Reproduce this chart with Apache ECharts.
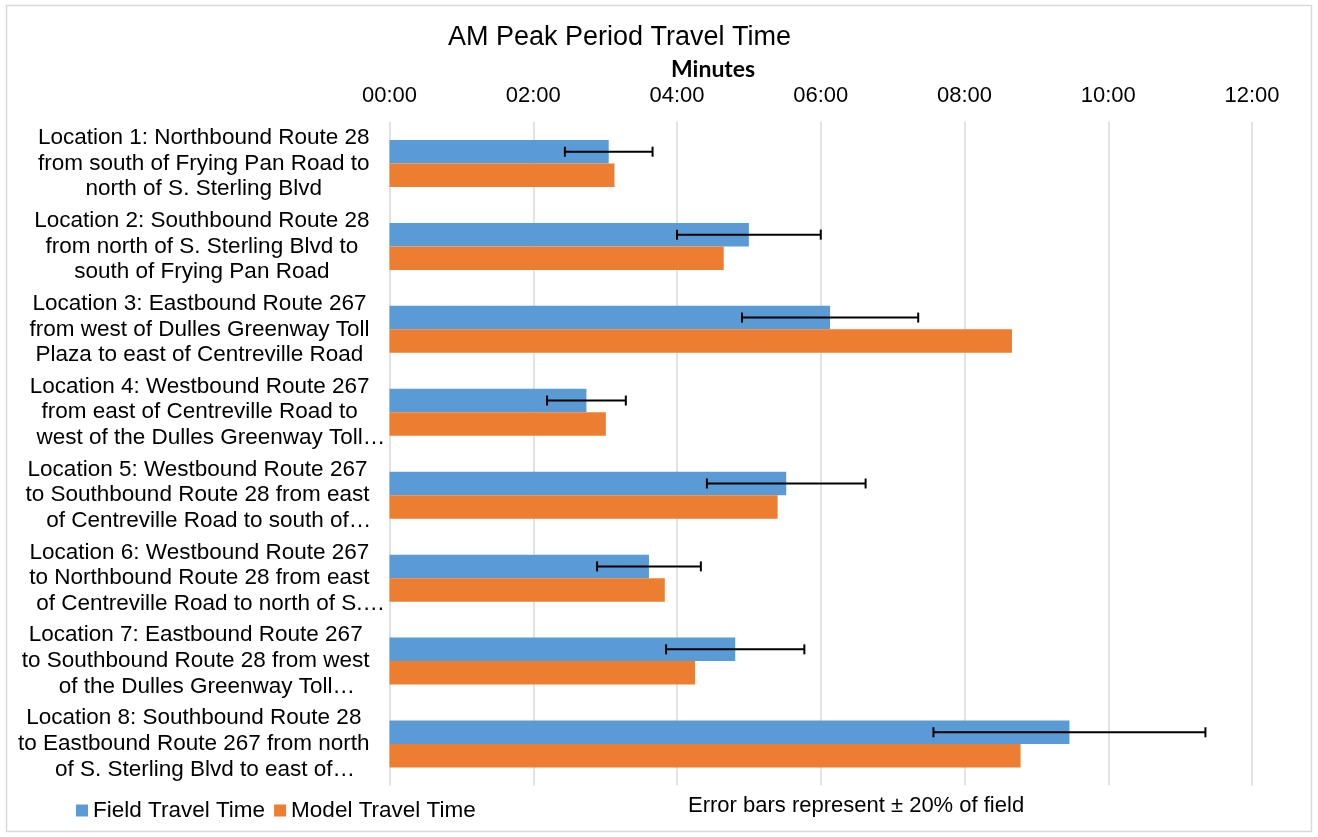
<!DOCTYPE html>
<html><head><meta charset="utf-8">
<script src="https://cdn.jsdelivr.net/npm/echarts@6/dist/echarts.min.js"></script>
<style>html,body{margin:0;padding:0;background:#fff}#c{width:1318px;height:837px}</style>
</head><body><div id="c"></div>
<script>
// ---- data ----
const categories = [
  "Location 1: Northbound Route 28\nfrom south of Frying Pan Road to\nnorth of S. Sterling Blvd",
  "Location 2: Southbound Route 28\nfrom north of S. Sterling Blvd to\nsouth of Frying Pan Road",
  "Location 3: Eastbound Route 267\nfrom west of Dulles Greenway Toll\nPlaza to east of Centreville Road",
  "Location 4: Westbound Route 267\nfrom east of Centreville Road to\nwest of the Dulles Greenway Toll\u2026",
  "Location 5: Westbound Route 267\nto Southbound Route 28 from east\nof Centreville Road to south of\u2026",
  "Location 6: Westbound Route 267\nto Northbound Route 28 from east\nof Centreville Road to north of S.\u2026",
  "Location 7: Eastbound Route 267\nto Southbound Route 28 from west\nof the Dulles Greenway Toll\u2026",
  "Location 8: Southbound Route 28\nto Eastbound Route 267 from north\nof S. Sterling Blvd to east of\u2026"
];
// minutes
const fieldTravelTime = [3.05, 5.00, 6.13, 2.74, 5.52, 3.61, 4.81, 9.46];
const modelTravelTime = [3.13, 4.65, 8.66, 3.01, 5.40, 3.83, 4.25, 8.78];
const errorShare = 0.20; // "Error bars represent ± 20% of field"
const seriesNames = ["Field Travel Time", "Model Travel Time"];
const chartTitle = "AM Peak Period Travel Time";
const axisName = "Minutes";
const noteText = "Error bars represent \u00b1 20% of field";

// ---- styling ----
const FONT = '"Liberation Sans", Arial, sans-serif';
const BAR_W = 23.5;
const BLUE = '#5B9BD5', ORANGE = '#ED7D31', GRID = '#d9d9d9';
const LBL = 22.5;

const errorData = fieldTravelTime.map((v, i) => [i, v * (1 - errorShare), v * (1 + errorShare)]);

const chart = echarts.init(document.getElementById('c'), null, {renderer: 'canvas'});
chart.setOption({
  animation: false,
  backgroundColor: '#fff',
  title: [
    {text: chartTitle, left: 448, top: 24, padding: 0,
     textStyle: {fontFamily: FONT, fontSize: 27, fontWeight: 'normal', color: '#000'}},
    {text: axisName, left: 671, top: 58, padding: 0,
     textStyle: {fontFamily: 'Lato, "Open Sans", sans-serif', fontSize: 23, fontWeight: 'bold', color: '#000'}},
    {text: noteText, left: 688, top: 795, padding: 0,
     textStyle: {fontFamily: FONT, fontSize: 22, fontWeight: 'normal', color: '#000'}}
  ],
  legend: {
    data: seriesNames, left: 76, top: 799, padding: 0,
    icon: 'rect', itemWidth: 12, itemHeight: 12, itemGap: 9,
    textStyle: {fontFamily: FONT, fontSize: 22.5, color: '#000'}
  },
  grid: {left: 389.5, right: 66, top: 122, bottom: 51.5, containLabel: false, outerBoundsMode: 'none'},
  xAxis: {
    type: 'value', position: 'top', min: 0, max: 12, interval: 2,
    axisLine: {show: false}, axisTick: {show: false},
    splitLine: {show: true, lineStyle: {color: GRID, width: 1.5}},
    axisLabel: {
      margin: 15, fontFamily: FONT, fontSize: 22, color: '#000',
      formatter: v => String(v).padStart(2, '0') + ':00'
    }
  },
  yAxis: {
    type: 'category', data: categories, inverse: true,
    axisLine: {show: false}, axisTick: {show: false}, splitLine: {show: false},
    axisLabel: {
      margin: 20, interval: 0, fontFamily: FONT, fontSize: LBL, color: '#000', lineHeight: 25.8,
      formatter: (val) => val.split('\n').map(line => {
        if (line.endsWith('\u2026')) return '{l|' + line.slice(0, -1) + '}{e|\u2003\u2026}';
        return '{l|' + line + '}';
      }).join('\n'),
      rich: {
        l: {align: 'center', fontFamily: FONT, fontSize: LBL, lineHeight: 25.8, color: '#000'},
        e: {align: 'center', width: 0, fontFamily: FONT, fontSize: LBL, lineHeight: 25.8, color: '#000'}
      }
    }
  },
  series: [
    {name: seriesNames[0], type: 'bar', data: fieldTravelTime, barWidth: BAR_W, barGap: '0%',
     itemStyle: {color: BLUE}},
    {name: seriesNames[1], type: 'bar', data: modelTravelTime, barWidth: BAR_W, barGap: '0%',
     itemStyle: {color: ORANGE}},
    {name: 'Error', type: 'custom', data: errorData, z: 10,
     encode: {x: [1, 2], y: 0},
     renderItem: (params, api) => {
       const idx = api.value(0);
       const a = api.coord([api.value(1), idx]);
       const b = api.coord([api.value(2), idx]);
       const y = a[1] - BAR_W / 2;
       const cap = 5;
       const st = {stroke: '#000', lineWidth: 2};
       return {type: 'group', children: [
         {type: 'line', shape: {x1: a[0], y1: y, x2: b[0], y2: y}, style: st},
         {type: 'line', shape: {x1: a[0], y1: y - cap, x2: a[0], y2: y + cap}, style: st},
         {type: 'line', shape: {x1: b[0], y1: y - cap, x2: b[0], y2: y + cap}, style: st}
       ]};
     }}
  ],
  graphic: [
    {type: 'rect', silent: true, shape: {x: 6.5, y: 5.5, width: 1305, height: 826},
     style: {fill: 'none', stroke: GRID, lineWidth: 1.5}}
  ]
});
</script>
</body></html>
